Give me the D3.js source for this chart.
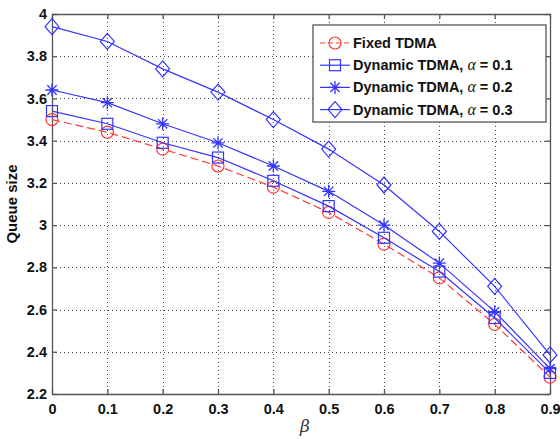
<!DOCTYPE html>
<html>
<head>
<meta charset="utf-8">
<script src="https://cdn.jsdelivr.net/npm/d3@7"></script>
<style>
  body { margin: 0; background: #fff; }
  text { font-family: "Liberation Sans", Arial, sans-serif; }
</style>
</head>
<body>
<div id="chart"></div>
<script>
// data
const betas = [0, 0.1, 0.2, 0.3, 0.4, 0.5, 0.6, 0.7, 0.8, 0.9];
const fixedTdma = [3.50, 3.44, 3.36, 3.28, 3.18, 3.06, 2.91, 2.75, 2.53, 2.28];
const dynamic01 = [3.54, 3.48, 3.39, 3.32, 3.21, 3.09, 2.94, 2.78, 2.56, 2.30];
const dynamic02 = [3.64, 3.58, 3.48, 3.39, 3.28, 3.16, 3.00, 2.82, 2.59, 2.32];
const dynamic03 = [3.94, 3.87, 3.74, 3.63, 3.50, 3.36, 3.19, 2.97, 2.71, 2.385];
const xTicks = [0, 0.1, 0.2, 0.3, 0.4, 0.5, 0.6, 0.7, 0.8, 0.9];
const yTicks = [2.2, 2.4, 2.6, 2.8, 3, 3.2, 3.4, 3.6, 3.8, 4];

const series = [
  { name: "Fixed TDMA", alpha: null, values: fixedTdma, color: "#ff3b3b", dash: "8,4", marker: "circle" },
  { name: "Dynamic TDMA, ", alpha: "0.1", values: dynamic01, color: "#3535ff", dash: null, marker: "square" },
  { name: "Dynamic TDMA, ", alpha: "0.2", values: dynamic02, color: "#3535ff", dash: null, marker: "star" },
  { name: "Dynamic TDMA, ", alpha: "0.3", values: dynamic03, color: "#3535ff", dash: null, marker: "diamond" }
];

const width = 560, height = 439;
const margin = { left: 52, right: 10, top: 14, bottom: 45 };

const svg = d3.select("#chart").append("svg")
  .attr("width", width)
  .attr("height", height);

const x = d3.scaleLinear().domain([0, 0.9]).range([margin.left, width - margin.right]);
const y = d3.scaleLinear().domain([2.2, 4]).range([height - margin.bottom, margin.top]);

const x0 = x.range()[0], x1 = x.range()[1];
const y0 = y.range()[0], y1 = y.range()[1];

// grid
const grid = svg.append("g").attr("stroke", "#444").attr("stroke-width", 1).attr("stroke-dasharray", "1,3");
grid.selectAll(".gx").data(xTicks.slice(1, -1)).enter().append("line")
  .attr("x1", d => Math.round(x(d)) + 0.5).attr("x2", d => Math.round(x(d)) + 0.5)
  .attr("y1", y1).attr("y2", y0);
grid.selectAll(".gy").data(yTicks.slice(1, -1)).enter().append("line")
  .attr("y1", d => Math.round(y(d)) + 0.5).attr("y2", d => Math.round(y(d)) + 0.5)
  .attr("x1", x0).attr("x2", x1);

// axes (ticks inside, box all round)
const fmt = d => d3.format("")(+d.toFixed(1));
const xAxis = d3.axisBottom(x).tickValues(xTicks).tickSizeInner(-5).tickSizeOuter(0).tickPadding(10).tickFormat(fmt);
const yAxis = d3.axisLeft(y).tickValues(yTicks).tickSizeInner(-5).tickSizeOuter(0).tickPadding(5).tickFormat(fmt);

function styleAxis(g) {
  g.selectAll("path,line").attr("stroke", "#555").attr("stroke-width", 1.3);
  g.selectAll("text").attr("fill", "#111").style("font-size", "14.5px").style("font-weight", "bold");
}
svg.append("g").attr("transform", `translate(0,${y0})`).call(xAxis).call(styleAxis);
svg.append("g").attr("transform", `translate(${x0},0)`).call(yAxis).call(styleAxis);
svg.append("g").attr("transform", `translate(0,${y1})`)
  .call(d3.axisTop(x).tickValues(xTicks).tickSizeInner(-5).tickSizeOuter(0).tickFormat(""))
  .call(styleAxis);
svg.append("g").attr("transform", `translate(${x1},0)`)
  .call(d3.axisRight(y).tickValues(yTicks).tickSizeInner(-5).tickSizeOuter(0).tickFormat(""))
  .call(styleAxis);

// markers
function drawMarker(g, type, color) {
  if (type === "circle") {
    g.append("circle").attr("r", 6).attr("fill", "none").attr("stroke", color).attr("stroke-width", 1.2);
  } else if (type === "square") {
    g.append("rect").attr("x", -5.5).attr("y", -5.5).attr("width", 11).attr("height", 11)
      .attr("fill", "none").attr("stroke", color).attr("stroke-width", 1.2);
  } else if (type === "star") {
    const r = 6.5, d = r * 0.72;
    g.append("path").attr("d", `M${-r},0H${r}M0,${-r}V${r}M${-d},${-d}L${d},${d}M${-d},${d}L${d},${-d}`)
      .attr("stroke", color).attr("stroke-width", 1.3);
  } else if (type === "diamond") {
    g.append("path").attr("d", "M0,-8L7,0L0,8L-7,0Z")
      .attr("fill", "none").attr("stroke", color).attr("stroke-width", 1.2);
  }
}

const line = d3.line().x((d, i) => x(betas[i])).y(d => y(d));

series.forEach(s => {
  svg.append("path").datum(s.values)
    .attr("d", line)
    .attr("fill", "none")
    .attr("stroke", s.color)
    .attr("stroke-width", 1.2)
    .attr("stroke-dasharray", s.dash);
  s.values.forEach((v, i) => {
    const g = svg.append("g").attr("transform", `translate(${x(betas[i])},${y(v)})`);
    drawMarker(g, s.marker, s.color);
  });
});

// axis labels
svg.append("text")
  .attr("transform", `translate(17,${(y0 + y1) / 2}) rotate(-90)`)
  .attr("text-anchor", "middle")
  .style("font-size", "15px").style("font-weight", "bold").attr("fill", "#111")
  .text("Queue size");

svg.append("text")
  .attr("x", (x0 + x1) / 2 + 4).attr("y", 432)
  .attr("text-anchor", "middle")
  .style("font-family", "'DejaVu Serif', 'Liberation Serif', serif")
  .style("font-style", "italic").style("font-size", "17px").attr("fill", "#333")
  .text("β");

// legend
const legend = svg.append("g");
legend.append("rect")
  .attr("x", 313).attr("y", 25).attr("width", 233).attr("height", 97)
  .attr("fill", "#fff").attr("stroke", "#555").attr("stroke-width", 1.3);

series.forEach((s, i) => {
  const ly = 43 + i * 22.2;
  const row = legend.append("g").attr("transform", `translate(0,${ly})`);
  row.append("line").attr("x1", 320).attr("x2", 350).attr("y1", 0).attr("y2", 0)
    .attr("stroke", s.color).attr("stroke-width", 1.2).attr("stroke-dasharray", s.dash ? "5,3" : null);
  drawMarker(row.append("g").attr("transform", "translate(335,0)"), s.marker, s.color);
  const t = row.append("text").attr("x", 353).attr("y", 5)
    .style("font-size", "14.5px").style("font-weight", "bold").attr("fill", "#111");
  t.append("tspan").text(s.name);
  if (s.alpha) {
    t.append("tspan").style("font-family", "'Liberation Serif', serif").style("font-style", "italic")
      .style("font-weight", "normal").style("font-size", "16px").text("α");
    t.append("tspan").text(" = " + s.alpha);
  }
});
</script>
</body>
</html>
